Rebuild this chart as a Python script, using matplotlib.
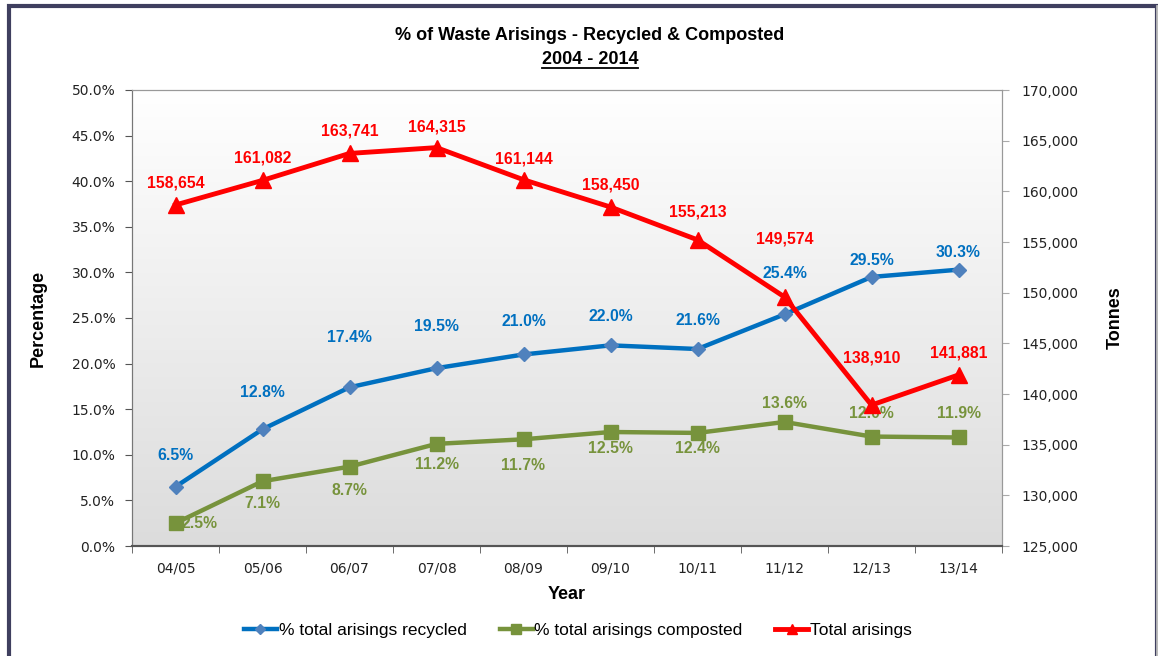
import numpy as np
import matplotlib
matplotlib.use("Agg")
import matplotlib.pyplot as plt
from matplotlib.ticker import FuncFormatter, MultipleLocator
from matplotlib.patches import Rectangle
from matplotlib.lines import Line2D

years = ["04/05", "05/06", "06/07", "07/08", "08/09", "09/10", "10/11", "11/12", "12/13", "13/14"]
recycled = [6.5, 12.8, 17.4, 19.5, 21.0, 22.0, 21.6, 25.4, 29.5, 30.3]
composted = [2.5, 7.1, 8.7, 11.2, 11.7, 12.5, 12.4, 13.6, 12.0, 11.9]
total = [158654, 161082, 163741, 164315, 161144, 158450, 155213, 149574, 138910, 141881]

# label offsets (pixels, positive = up), as placed in the original chart
rec_off = [31, 37, 50, 42, 33, 29, 29, 41, 16, 17]
comp_off = [0, -22, -24, -21, -26, -17, -16, 18, 23, 24]
tot_off = [22, 22, 22, 21, 21, 22, 28, 58, 47, 22]

blue = "#0070C0"
blue_mk = "#4F81BD"
green = "#77933C"
red = "#FF0000"
lab_font = "Liberation Sans"
px = 0.72  # points per pixel at dpi 100

fig = plt.figure(figsize=(11.58, 6.56), dpi=100)
ax = fig.add_axes([132 / 1158, 1 - 546 / 656, 870 / 1158, 456 / 656])
ax2 = ax.twinx()

# gradient background in plot area
grad = np.linspace(0, 1, 256).reshape(-1, 1)
ax.imshow(grad, extent=[0, 1, 0, 1], transform=ax.transAxes, aspect="auto",
          cmap=matplotlib.colors.LinearSegmentedColormap.from_list("g", ["#DCDCDC", "#FFFFFF"]),
          origin="lower", zorder=0)

x = np.arange(len(years))
ax.plot(x, recycled, color=blue, lw=3.2, marker="D", ms=7, mfc=blue_mk, mec=blue_mk, zorder=3)
ax.plot(x, composted, color=green, lw=3.2, marker="s", ms=10.5, mfc=green, mec=green, zorder=3)
ax2.plot(x, total, color=red, lw=3.5, marker="^", ms=11, mfc=red, mec=red, zorder=3)

lab_kw = dict(textcoords="offset points", fontsize=11.3, fontweight="bold", family=lab_font)
for i, v in enumerate(recycled):
    ax.annotate(f"{v:.1f}%", (i, v), xytext=(0, rec_off[i] * px),
                ha="center", va="center", color=blue, **lab_kw)
for i, v in enumerate(composted):
    if comp_off[i] == 0:
        ax.annotate(f"{v:.1f}%", (i, v), xytext=(4, 0), ha="left", va="center",
                    color=green, zorder=5, **lab_kw)
    else:
        ax.annotate(f"{v:.1f}%", (i, v), xytext=(0, comp_off[i] * px), ha="center", va="center",
                    color=green, zorder=5, **lab_kw)
for i, v in enumerate(total):
    ax2.annotate(f"{v:,}", (i, v), xytext=(0, tot_off[i] * px),
                 ha="center", va="center", color=red, **lab_kw)

ax.set_xlim(-0.5, 9.5)
ax.set_ylim(0, 50)
ax.yaxis.set_major_locator(MultipleLocator(5))
ax.yaxis.set_major_formatter(FuncFormatter(lambda v, p: f"{v:.1f}%"))
ax2.set_ylim(125000, 170000)
ax2.yaxis.set_major_locator(MultipleLocator(5000))
ax2.yaxis.set_major_formatter(FuncFormatter(lambda v, p: f"{int(v):,}"))

ax.set_xticks(x)
ax.set_xticklabels(years)
ax.set_xticks(np.arange(-0.5, 10, 1), minor=True)
ax.tick_params(axis="x", which="major", length=0, pad=11, labelsize=10, colors="#222222")
ax.tick_params(axis="x", which="minor", length=5, color="#555555")
ax.tick_params(axis="y", length=5, color="#555555", labelsize=10, labelcolor="#222222", pad=7)
ax2.tick_params(axis="y", length=5, color="#AAAAAA", labelsize=10, labelcolor="#222222", pad=9)

for a in (ax, ax2):
    a.spines["top"].set_color("#999999")
    a.spines["right"].set_color("#999999")
    a.spines["left"].set_color("#777777")
    a.spines["bottom"].set_color("#555555")
    a.spines["bottom"].set_linewidth(1.5)

ax.set_ylabel("Percentage", fontsize=13, fontweight="bold", family=lab_font, labelpad=18)
ax2.set_ylabel("Tonnes", fontsize=13, fontweight="bold", family=lab_font, labelpad=20)
ax.set_xlabel("Year", fontsize=13, fontweight="bold", family=lab_font, labelpad=8)

# title with underlined second line
fig.text(590 / 1158, 1 - 35 / 656, "% of Waste Arisings - Recycled & Composted",
         ha="center", va="center", fontsize=13, fontweight="bold", family=lab_font)
sub = fig.text(590 / 1158, 1 - 60 / 656, "2004 - 2014",
               ha="center", va="center", fontsize=13, fontweight="bold", family=lab_font)
fig.canvas.draw()
bb = sub.get_window_extent().transformed(fig.transFigure.inverted())
fig.add_artist(Line2D([bb.x0, bb.x1], [bb.y0 + 0.001, bb.y0 + 0.001], transform=fig.transFigure,
                      color="black", lw=1.3))

# legend
handles = [
    Line2D([], [], color=blue, lw=3.2, marker="D", ms=5, mfc=blue_mk, mec=blue_mk),
    Line2D([], [], color=green, lw=3.2, marker="s", ms=7, mfc=green, mec=green),
    Line2D([], [], color=red, lw=3.5, marker="^", ms=7, mfc=red, mec=red),
]
fig.legend(handles, ["% total arisings recycled", "% total arisings composted", "Total arisings"],
           loc="center", bbox_to_anchor=(578 / 1158, 1 - 630 / 656), ncol=3, frameon=False,
           prop={"family": lab_font, "size": 12.5}, handlelength=1.9, columnspacing=1.9,
           handletextpad=0.1)

# outer frame
fig.add_artist(Rectangle((8.5 / 1158, -0.01), (1156.5 - 8.5) / 1158, 1 - 5.5 / 656 + 0.01,
                         transform=fig.transFigure, fill=False, ec="#3F3F5F", lw=3))
fig.add_artist(Line2D([1156.5 / 1158] * 2, [0, 1 - 5.5 / 656], transform=fig.transFigure,
                      color="#BBBBBB", lw=2))

fig.savefig("out.png", dpi=100)
